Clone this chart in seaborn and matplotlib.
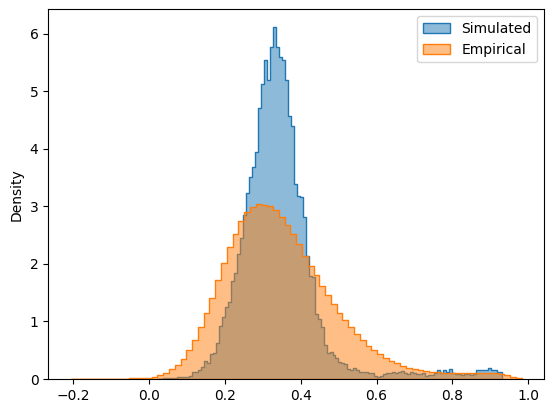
"""
Simulated vs empirical distribution: overlaid step histograms (density).
"""

import matplotlib

matplotlib.use("Agg")
import matplotlib.pyplot as plt
import numpy as np
import seaborn as sns

# bin ranges of the two histograms (each histogram has its own auto binning)
sim_range = (0.0195, 0.9324)
emp_range = (-0.207, 0.983)

# density per bin
sim_density = [
    0.005, 0.005, 0.01, 0.01, 0.015, 0.02, 0.02, 0.03, 0.03, 0.03, 0.04, 0.05,
    0.12, 0.13, 0.16, 0.21, 0.31, 0.27, 0.43, 0.46, 0.62, 0.93, 1.08, 1.26,
    1.34, 1.70, 1.85, 2.17, 2.45, 2.85,
    3.23, 3.52, 3.68, 3.94, 4.72, 5.13, 5.54, 5.20, 5.77, 6.12,
    5.78, 5.59, 5.55, 5.20, 4.57, 4.40, 3.39, 3.19, 3.16, 2.81,
    2.14, 1.79, 1.77, 1.13, 1.04, 0.91, 0.59, 0.45, 0.47, 0.42,
    0.36, 0.30, 0.27, 0.26, 0.17,
    0.15, 0.19, 0.16, 0.12, 0.13, 0.13, 0.11, 0.10, 0.05, 0.04,
    0.06, 0.08, 0.11, 0.10, 0.13, 0.10, 0.13, 0.14, 0.10, 0.09,
    0.13, 0.10, 0.08, 0.09, 0.10, 0.05, 0.07, 0.07, 0.10, 0.16,
    0.10, 0.16, 0.13, 0.17, 0.10, 0.08, 0.09, 0.07, 0.08, 0.09,
    0.07, 0.09, 0.16, 0.16, 0.15, 0.15, 0.19, 0.15, 0.15, 0.12,
    0.12,
]

emp_density = [
    0.005, 0.005, 0.005, 0.005, 0.005, 0.005, 0.005, 0.005, 0.005, 0.005,
    0.01, 0.01, 0.012, 0.015,
    0.03, 0.064, 0.10, 0.17, 0.24, 0.34, 0.50, 0.68, 0.90, 1.15,
    1.40, 1.72, 2.01, 2.29, 2.52, 2.75, 2.90, 2.99, 3.04, 3.03,
    3.01, 2.93, 2.82, 2.68, 2.52, 2.34, 2.14, 1.97, 1.80, 1.62,
    1.46, 1.30, 1.15, 1.03, 0.91, 0.79, 0.68, 0.57, 0.50, 0.43,
    0.37, 0.31, 0.27, 0.23, 0.20, 0.17, 0.16, 0.14, 0.13, 0.12,
    0.11, 0.11, 0.10, 0.10, 0.10, 0.10, 0.10, 0.10, 0.10, 0.10,
    0.09, 0.07, 0.04, 0.02,
]

series_labels = ["Simulated", "Empirical"]


def bin_centers(lo, hi, n):
    edges = np.linspace(lo, hi, n + 1)
    return (edges[:-1] + edges[1:]) / 2


fig = plt.figure(figsize=(5.54, 4.13), dpi=100)
ax = fig.add_axes([0.087, 0.0823, 0.8953, 0.895])

for label, rng, dens, color in [
    (series_labels[0], sim_range, sim_density, "C0"),
    (series_labels[1], emp_range, emp_density, "C1"),
]:
    sns.histplot(
        x=bin_centers(rng[0], rng[1], len(dens)),
        weights=dens,
        bins=len(dens),
        binrange=rng,
        element="step",
        stat="count",
        alpha=0.5,
        color=color,
        label=label,
        ax=ax,
    )

ax.set_ylabel("Density")
ax.set_xlabel("")
ax.legend(loc="upper right")

fig.savefig("out.png", dpi=100)
plt.close(fig)
